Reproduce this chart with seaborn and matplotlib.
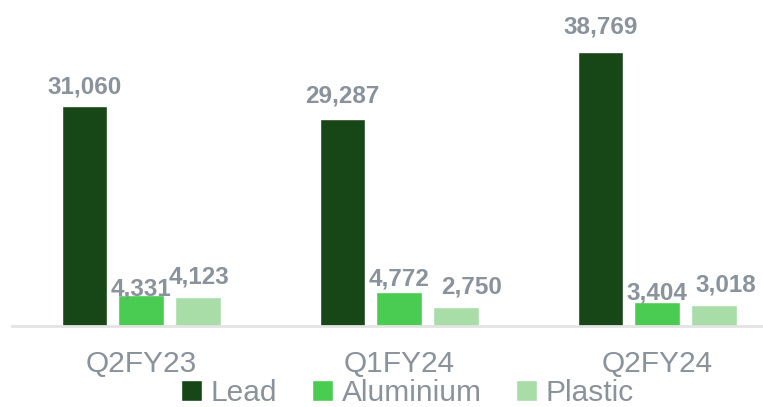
import matplotlib
matplotlib.use("Agg")
import matplotlib.pyplot as plt
import seaborn as sns
import pandas as pd

quarters = ["Q2FY23", "Q1FY24", "Q2FY24"]
metals = ["Lead", "Aluminium", "Plastic"]
lead = [31060, 29287, 38769]
aluminium = [4331, 4772, 3404]
plastic = [4123, 2750, 3018]

colors = ["#174617", "#4ACB52", "#A8DDA8"]
text_gray = "#8A929C"

rows = []
for m, vals in zip(metals, [lead, aluminium, plastic]):
    for q, v in zip(quarters, vals):
        rows.append({"Quarter": q, "Metal": m, "Value": v})
df = pd.DataFrame(rows)

sns.set_theme(style="white")
plt.rcParams["font.family"] = ["Liberation Sans", "DejaVu Sans"]

fig = plt.figure(figsize=(7.63, 4.07), dpi=100)
ax = fig.add_axes([12 / 763, 81 / 407, 1 - 12 / 763, 1 - 81 / 407])

sns.barplot(data=df, x="Quarter", y="Value", hue="Metal", order=quarters,
            hue_order=metals, palette=colors, width=0.66, gap=0.2,
            saturation=1, ax=ax, legend=True)

ax.set_xlim(-0.5, 2.41)
ax.set_ylim(0, 46100)
ax.set_xlabel("")
ax.set_ylabel("")
ax.set_yticks([])
for s in ["top", "right", "left"]:
    ax.spines[s].set_visible(False)
ax.spines["bottom"].set_color("#E3E3E3")
ax.spines["bottom"].set_linewidth(2)
ax.tick_params(axis="x", length=0, pad=17, labelsize=21.5, labelcolor=text_gray)

# label offsets (points) per series: (dx, dy) with baseline alignment
offsets = {"Lead": [(0, 9.4), (0, 11.5), (0, 13)],
           "Aluminium": [(0, 0), (0, 5), (0, 1.4)],
           "Plastic": [(1, 9.4), (11.5, 9.4), (8.6, 9.4)]}
for cont, m in zip(ax.containers, metals):
    for i, bar in enumerate(cont):
        h = bar.get_height()
        ax.annotate(f"{int(h):,}", (bar.get_x() + bar.get_width() / 2, h),
                    xytext=offsets[m][i], textcoords="offset points",
                    ha="center", va="baseline", fontsize=17.5, fontweight="bold",
                    color=text_gray)

ax.legend_.remove()
leg = fig.legend(*ax.get_legend_handles_labels(), loc="center",
                 bbox_to_anchor=(0.534, 0.034), ncol=3, frameon=False,
                 fontsize=21.5, handlelength=0.7, handleheight=0.7,
                 handletextpad=0.3, columnspacing=1.15, borderpad=0)
for t in leg.get_texts():
    t.set_color(text_gray)

fig.savefig("out.png", dpi=100)
